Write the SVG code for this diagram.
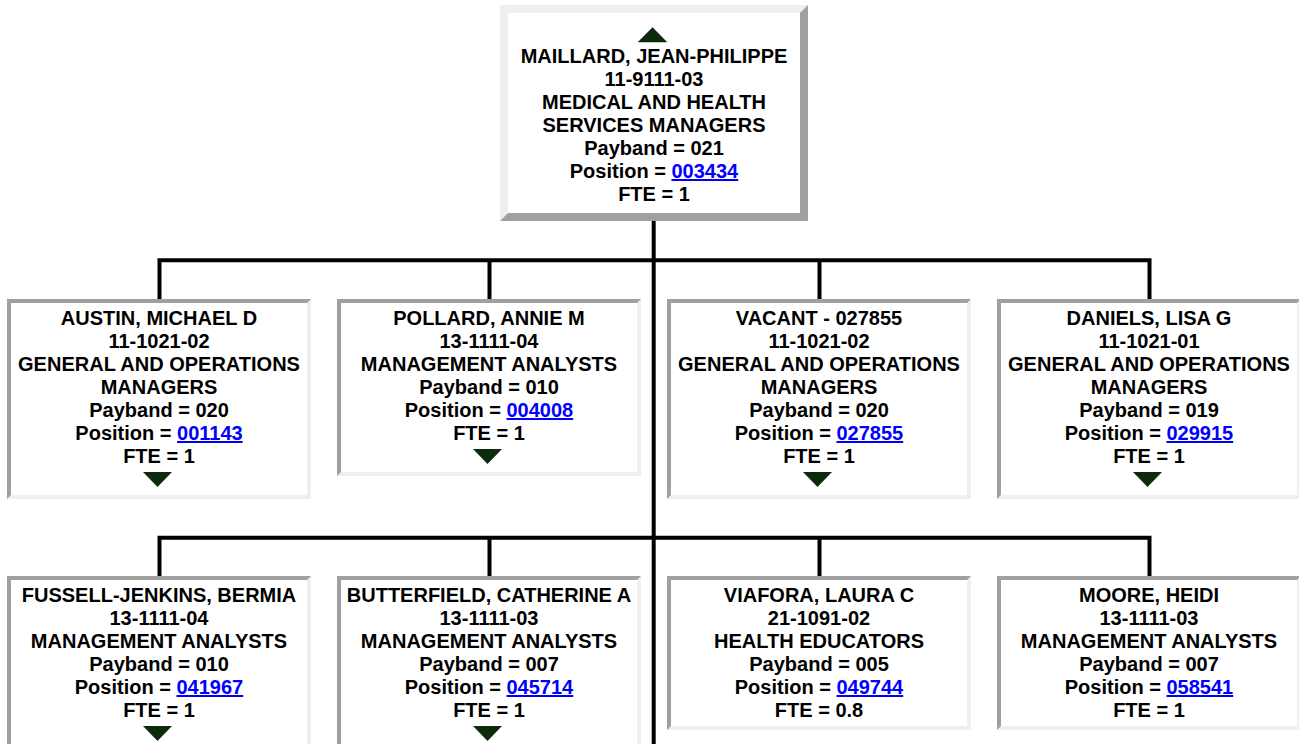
<svg xmlns="http://www.w3.org/2000/svg" width="1299" height="744" viewBox="0 0 1299 744">
<style>
.t{font-family:"Liberation Sans",Arial,sans-serif;font-weight:bold;font-size:20px;text-anchor:middle;fill:#000}
.lk{fill:#0000ff;text-decoration:underline}
.dk{fill:#a0a0a0}
.lt{fill:#efefef}
.in{fill:#fff}
.tri{fill:#0d2a0d}
.cn{fill:none;stroke:#000;stroke-width:4;stroke-linejoin:miter;stroke-linecap:butt}
</style>
<rect width="1299" height="744" fill="#fff"/>
<g id="connectors">
<path class="cn" d="M653.7 221 V744"/>
<path class="cn" d="M159.5 299 V260.3 H1149.5 V299 M489.5 260.3 V299 M819.5 260.3 V299"/>
<path class="cn" d="M159.5 576 V537.7 H1149.5 V576 M489.5 537.7 V576 M819.5 537.7 V576"/>
</g>
<g id="node-maillard">
<rect class="dk" x="500" y="5" width="308" height="216"/>
<polygon class="lt" points="500,5 808,5 800,13 508,13 508,213 500,221"/>
<rect class="in" x="508" y="13" width="292" height="200"/>
<polygon class="tri" points="637.7,42.3 667.3,42.3 652.5,27.3"/>
<text class="t" x="654" y="63">MAILLARD, JEAN-PHILIPPE</text>
<text class="t" x="654" y="86">11-9111-03</text>
<text class="t" x="654" y="109">MEDICAL AND HEALTH</text>
<text class="t" x="654" y="132">SERVICES MANAGERS</text>
<text class="t" x="654" y="155">Payband = 021</text>
<text class="t" x="654" y="178">Position = <tspan class="lk">003434</tspan></text>
<text class="t" x="654" y="201">FTE = 1</text>
</g>
<g id="node-austin">
<rect class="lt" x="7" y="299" width="304" height="200"/>
<polygon class="dk" points="7,299 311,299 307,303 11,303 11,495 7,499"/>
<rect class="in" x="11" y="303" width="296" height="192"/>
<text class="t" x="159" y="325">AUSTIN, MICHAEL D</text>
<text class="t" x="159" y="348">11-1021-02</text>
<text class="t" x="159" y="371">GENERAL AND OPERATIONS</text>
<text class="t" x="159" y="394">MANAGERS</text>
<text class="t" x="159" y="417">Payband = 020</text>
<text class="t" x="159" y="440">Position = <tspan class="lk">001143</tspan></text>
<text class="t" x="159" y="463">FTE = 1</text>
<polygon class="tri" points="143,472 172,472 157.5,487"/>
</g>
<g id="node-pollard">
<rect class="lt" x="337" y="299" width="304" height="177"/>
<polygon class="dk" points="337,299 641,299 637,303 341,303 341,472 337,476"/>
<rect class="in" x="341" y="303" width="296" height="169"/>
<text class="t" x="489" y="325">POLLARD, ANNIE M</text>
<text class="t" x="489" y="348">13-1111-04</text>
<text class="t" x="489" y="371">MANAGEMENT ANALYSTS</text>
<text class="t" x="489" y="394">Payband = 010</text>
<text class="t" x="489" y="417">Position = <tspan class="lk">004008</tspan></text>
<text class="t" x="489" y="440">FTE = 1</text>
<polygon class="tri" points="473,449 502,449 487.5,464"/>
</g>
<g id="node-vacant">
<rect class="lt" x="667" y="299" width="304" height="200"/>
<polygon class="dk" points="667,299 971,299 967,303 671,303 671,495 667,499"/>
<rect class="in" x="671" y="303" width="296" height="192"/>
<text class="t" x="819" y="325">VACANT - 027855</text>
<text class="t" x="819" y="348">11-1021-02</text>
<text class="t" x="819" y="371">GENERAL AND OPERATIONS</text>
<text class="t" x="819" y="394">MANAGERS</text>
<text class="t" x="819" y="417">Payband = 020</text>
<text class="t" x="819" y="440">Position = <tspan class="lk">027855</tspan></text>
<text class="t" x="819" y="463">FTE = 1</text>
<polygon class="tri" points="803,472 832,472 817.5,487"/>
</g>
<g id="node-daniels">
<rect class="lt" x="997" y="299" width="304" height="200"/>
<polygon class="dk" points="997,299 1301,299 1297,303 1001,303 1001,495 997,499"/>
<rect class="in" x="1001" y="303" width="296" height="192"/>
<text class="t" x="1149" y="325">DANIELS, LISA G</text>
<text class="t" x="1149" y="348">11-1021-01</text>
<text class="t" x="1149" y="371">GENERAL AND OPERATIONS</text>
<text class="t" x="1149" y="394">MANAGERS</text>
<text class="t" x="1149" y="417">Payband = 019</text>
<text class="t" x="1149" y="440">Position = <tspan class="lk">029915</tspan></text>
<text class="t" x="1149" y="463">FTE = 1</text>
<polygon class="tri" points="1133,472 1162,472 1147.5,487"/>
</g>
<g id="node-fussell">
<rect class="lt" x="7" y="576" width="304" height="177"/>
<polygon class="dk" points="7,576 311,576 307,580 11,580 11,749 7,753"/>
<rect class="in" x="11" y="580" width="296" height="169"/>
<text class="t" x="159" y="602">FUSSELL-JENKINS, BERMIA</text>
<text class="t" x="159" y="625">13-1111-04</text>
<text class="t" x="159" y="648">MANAGEMENT ANALYSTS</text>
<text class="t" x="159" y="671">Payband = 010</text>
<text class="t" x="159" y="694">Position = <tspan class="lk">041967</tspan></text>
<text class="t" x="159" y="717">FTE = 1</text>
<polygon class="tri" points="143,726 172,726 157.5,741"/>
</g>
<g id="node-butterfield">
<rect class="lt" x="337" y="576" width="304" height="177"/>
<polygon class="dk" points="337,576 641,576 637,580 341,580 341,749 337,753"/>
<rect class="in" x="341" y="580" width="296" height="169"/>
<text class="t" x="489" y="602">BUTTERFIELD, CATHERINE A</text>
<text class="t" x="489" y="625">13-1111-03</text>
<text class="t" x="489" y="648">MANAGEMENT ANALYSTS</text>
<text class="t" x="489" y="671">Payband = 007</text>
<text class="t" x="489" y="694">Position = <tspan class="lk">045714</tspan></text>
<text class="t" x="489" y="717">FTE = 1</text>
<polygon class="tri" points="473,726 502,726 487.5,741"/>
</g>
<g id="node-viafora">
<rect class="lt" x="667" y="576" width="304" height="154"/>
<polygon class="dk" points="667,576 971,576 967,580 671,580 671,726 667,730"/>
<rect class="in" x="671" y="580" width="296" height="146"/>
<text class="t" x="819" y="602">VIAFORA, LAURA C</text>
<text class="t" x="819" y="625">21-1091-02</text>
<text class="t" x="819" y="648">HEALTH EDUCATORS</text>
<text class="t" x="819" y="671">Payband = 005</text>
<text class="t" x="819" y="694">Position = <tspan class="lk">049744</tspan></text>
<text class="t" x="819" y="717">FTE = 0.8</text>
</g>
<g id="node-moore">
<rect class="lt" x="997" y="576" width="304" height="154"/>
<polygon class="dk" points="997,576 1301,576 1297,580 1001,580 1001,726 997,730"/>
<rect class="in" x="1001" y="580" width="296" height="146"/>
<text class="t" x="1149" y="602">MOORE, HEIDI</text>
<text class="t" x="1149" y="625">13-1111-03</text>
<text class="t" x="1149" y="648">MANAGEMENT ANALYSTS</text>
<text class="t" x="1149" y="671">Payband = 007</text>
<text class="t" x="1149" y="694">Position = <tspan class="lk">058541</tspan></text>
<text class="t" x="1149" y="717">FTE = 1</text>
</g>
</svg>
